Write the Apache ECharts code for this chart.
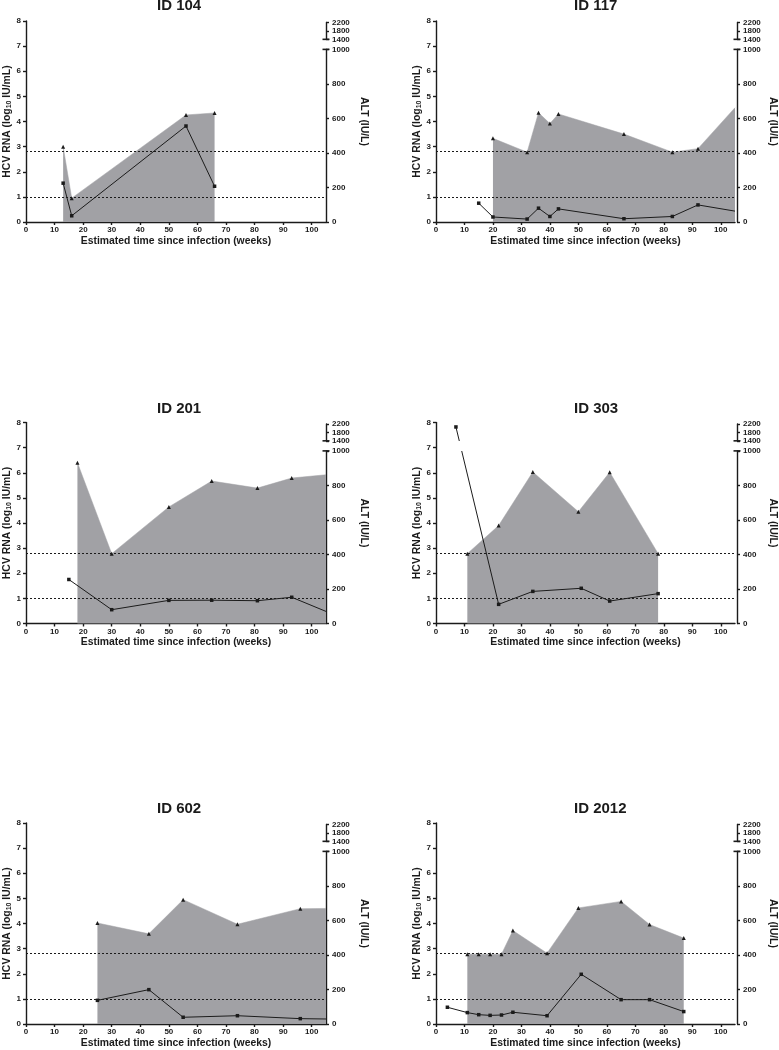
<!DOCTYPE html>
<html>
<head>
<meta charset="utf-8">
<title>HCV RNA and ALT over time</title>
<script src="https://cdn.jsdelivr.net/npm/echarts@6.0.0/dist/echarts.min.js"></script>
<style>
  html, body { margin: 0; padding: 0; background: #fff; }
  #chart { width: 779px; height: 1050px; }
</style>
</head>
<body>
<div id="chart"></div>
<script>
// axis ticks
var weekTicks = [0, 10, 20, 30, 40, 50, 60, 70, 80, 90, 100]
var rnaCutoffs = [2.8, 1.0]

var panelIds = ['ID 104', 'ID 117', 'ID 201', 'ID 303', 'ID 602', 'ID 2012']

// [week, HCV RNA log10 IU/mL]
var rna104 = [[13, 3.0], [16, 0.95], [56, 4.26], [66, 4.34]]
var rna117 = [[20, 3.33], [32, 2.78], [36, 4.35], [40, 3.92], [43, 4.3], [66, 3.5], [83, 2.78], [92, 2.92], [105, 4.55]]
var rna201 = [[18, 6.4], [30, 2.78], [50, 4.64], [65, 5.67], [81, 5.39], [93, 5.79], [105, 5.92]]
var rna303 = [[11, 2.78], [22, 3.9], [34, 6.03], [50, 4.45], [61, 6.02], [78, 2.78]]
var rna602 = [[25, 4.02], [43, 3.59], [55, 4.95], [74, 3.97], [96, 4.59], [105, 4.6]]
var rna2012 = [[11, 2.78], [15, 2.78], [19, 2.78], [23, 2.78], [27, 3.72], [39, 2.82], [50, 4.62], [65, 4.88], [75, 3.96], [87, 3.42]]

// [week, ALT IU/L]
var alt104 = [[13, 225], [16, 36], [56, 556], [66, 207]]
var alt117 = [[15, 109], [20, 29], [32, 17], [36, 80], [40, 32], [43, 76], [66, 19], [83, 32], [92, 99], [105, 63]]
var alt201 = [[15, 255], [30, 80], [50, 134], [65, 135], [81, 132], [93, 152], [105, 70]]
var alt303 = [[7, 2060], [22, 111], [34, 186], [51, 204], [61, 130], [78, 173]]
var alt602 = [[25, 137], [43, 199], [55, 39], [74, 48], [96, 31], [105, 29]]
var alt2012 = [[4, 97], [11, 66], [15, 54], [19, 50], [23, 52], [27, 68], [39, 48], [51, 288], [65, 141], [75, 141], [87, 72]]

var rnaSets = [rna104, rna117, rna201, rna303, rna602, rna2012]
var altSets = [alt104, alt117, alt201, alt303, alt602, alt2012]

var X_MAX = 105
var RNA_MAX = 8

// broken ALT axis: 0-1000 then 1400-2200 squeezed on top
var ALT_LOW_MAX = 1000, ALT_HIGH_MIN = 1400, ALT_HIGH_MAX = 2200
var POS_LOW_MAX = 6.87, POS_HIGH_MIN = 7.27, POS_HIGH_MAX = 7.94

function altPos (v) {
  if (v <= ALT_LOW_MAX) return v / ALT_LOW_MAX * POS_LOW_MAX
  if (v >= ALT_HIGH_MIN) {
    return POS_HIGH_MIN + (v - ALT_HIGH_MIN) / (ALT_HIGH_MAX - ALT_HIGH_MIN) * (POS_HIGH_MAX - POS_HIGH_MIN)
  }
  return POS_LOW_MAX + (v - ALT_LOW_MAX) / (ALT_HIGH_MIN - ALT_LOW_MAX) * (POS_HIGH_MIN - POS_LOW_MAX)
}

var INK = '#1b1b1b'
var FILL = '#a1a1a5'
var FONT = '"Liberation Sans", Arial, sans-serif'

var COLS = [{ left: 26, width: 300, titleX: 157 }, { left: 436, width: 301, titleX: 574 }]
var ROWS = [{ top: 21, titleY: -2 }, { top: 422.5, titleY: 401.5 }, { top: 823, titleY: 801.5 }]
var PLOT_H = 201

var tickLabel = { color: INK, fontSize: 8, fontWeight: 'bold', fontFamily: FONT }
var axisName = { color: INK, fontSize: 10.4, fontWeight: 'bold', fontFamily: FONT }
var lineOf = { color: INK, width: 1.4 }

function plain (v) { return String(v) }

function edgeless (pts) {
  // points sitting on the right border are only there to carry the line to the edge
  return pts.map(function (p) {
    return p[0] >= X_MAX ? { value: p, symbol: 'none' } : p
  })
}

var option = {
  animation: false,
  backgroundColor: '#fff',
  textStyle: { fontFamily: FONT },
  title: [],
  grid: [],
  xAxis: [],
  yAxis: [],
  series: [],
  visualMap: {
    show: false,
    type: 'piecewise',
    dimension: 1,
    seriesIndex: [],
    pieces: [
      { lte: POS_LOW_MAX, color: INK },
      { gt: POS_LOW_MAX, lt: POS_HIGH_MIN, color: 'rgba(255,255,255,0)' },
      { gte: POS_HIGH_MIN, color: INK }
    ]
  }
}

panelIds.forEach(function (id, i) {
  var col = COLS[i % 2]
  var row = ROWS[Math.floor(i / 2)]
  var g = option.grid.length
  var x = option.xAxis.length
  var y = option.yAxis.length

  option.title.push({
    text: id,
    left: col.titleX,
    top: row.titleY,
    padding: 0,
    textStyle: { color: INK, fontSize: 15, fontWeight: 'bold', fontFamily: FONT }
  })

  // main plot, lower ALT segment, upper ALT segment
  option.grid.push({ left: col.left, top: row.top, width: col.width, height: PLOT_H })
  option.grid.push({
    left: col.left,
    top: row.top + PLOT_H * (RNA_MAX - POS_LOW_MAX) / RNA_MAX,
    width: col.width,
    height: PLOT_H * POS_LOW_MAX / RNA_MAX
  })
  option.grid.push({
    left: col.left,
    top: row.top + PLOT_H * (RNA_MAX - POS_HIGH_MAX) / RNA_MAX,
    width: col.width,
    height: PLOT_H * (POS_HIGH_MAX - POS_HIGH_MIN) / RNA_MAX
  })

  option.xAxis.push({
    gridIndex: g,
    type: 'value',
    min: 0,
    max: X_MAX,
    name: 'Estimated time since infection (weeks)',
    nameLocation: 'middle',
    nameGap: 14,
    nameTextStyle: axisName,
    axisLine: { show: true, onZero: false, lineStyle: lineOf },
    axisTick: { show: true, length: 3, customValues: weekTicks, lineStyle: lineOf },
    axisLabel: Object.assign({ margin: 4, customValues: weekTicks, formatter: plain }, tickLabel),
    splitLine: { show: false }
  })
  option.xAxis.push({ gridIndex: g + 1, type: 'value', min: 0, max: X_MAX, show: false })
  option.xAxis.push({ gridIndex: g + 2, type: 'value', min: 0, max: X_MAX, show: false })

  option.yAxis.push({
    gridIndex: g,
    type: 'value',
    min: 0,
    max: RNA_MAX,
    interval: 1,
    name: '{n|HCV RNA (log}{s|10}{n| IU/mL)}',
    nameLocation: 'middle',
    nameGap: 13,
    nameTextStyle: Object.assign({
      rich: {
        n: axisName,
        s: { color: INK, fontSize: 7, fontWeight: 'bold', fontFamily: FONT, padding: [5, 0, 0, 0] }
      }
    }, axisName),
    axisLine: { show: true, onZero: false, lineStyle: lineOf },
    axisTick: { show: true, length: 3, lineStyle: lineOf },
    axisLabel: Object.assign({ margin: 5, formatter: plain }, tickLabel),
    splitLine: { show: false }
  })
  // ALT in plot coordinates, carries the right-hand name only
  option.yAxis.push({
    gridIndex: g,
    type: 'value',
    position: 'right',
    min: 0,
    max: RNA_MAX,
    name: 'ALT (IU/L)',
    nameLocation: 'middle',
    nameRotate: -90,
    nameGap: 33,
    nameTextStyle: axisName,
    axisLine: { show: false, onZero: false },
    axisTick: { show: false },
    axisLabel: { show: false },
    splitLine: { show: false }
  })
  option.yAxis.push({
    gridIndex: g + 1,
    type: 'value',
    position: 'right',
    min: 0,
    max: ALT_LOW_MAX,
    interval: 200,
    axisLine: { show: true, onZero: false, symbol: ['none', 'rect'], symbolSize: [7, 1.6], lineStyle: lineOf },
    axisTick: { show: true, length: 3, lineStyle: lineOf },
    axisLabel: Object.assign({ margin: 6, formatter: plain }, tickLabel),
    splitLine: { show: false }
  })
  option.yAxis.push({
    gridIndex: g + 2,
    type: 'value',
    position: 'right',
    min: ALT_HIGH_MIN,
    max: ALT_HIGH_MAX,
    interval: 400,
    axisLine: { show: true, onZero: false, symbol: ['rect', 'none'], symbolSize: [7, 1.6], lineStyle: lineOf },
    axisTick: { show: true, length: 3, lineStyle: lineOf },
    axisLabel: Object.assign({ margin: 6, formatter: plain }, tickLabel),
    splitLine: { show: false }
  })

  option.series.push({
    name: id + ' HCV RNA',
    type: 'line',
    xAxisIndex: x,
    yAxisIndex: y,
    data: edgeless(rnaSets[i]),
    symbol: 'triangle',
    symbolSize: 4,
    showSymbol: true,
    itemStyle: { color: INK },
    lineStyle: { color: FILL, width: 0.5 },
    areaStyle: { color: FILL, opacity: 1 },
    z: 2,
    markLine: {
      silent: true,
      symbol: ['none', 'none'],
      label: { show: false },
      lineStyle: { color: INK, width: 1, type: [2, 2] },
      data: rnaCutoffs.map(function (v) { return { yAxis: v } })
    }
  })

  // ALT colour comes from the visualMap so the line fades out across the axis break
  option.visualMap.seriesIndex.push(option.series.length)
  option.series.push({
    name: id + ' ALT',
    type: 'line',
    xAxisIndex: x,
    yAxisIndex: y + 1,
    data: edgeless(altSets[i].map(function (p) { return [p[0], altPos(p[1])] })),
    symbol: 'rect',
    symbolSize: 3.5,
    showSymbol: true,
    lineStyle: { width: 1 },
    z: 3
  })
})

var chart = echarts.init(document.getElementById('chart'), null, { renderer: 'canvas' })
chart.setOption(option)
window.addEventListener('resize', chart.resize)
</script>
</body>
</html>
